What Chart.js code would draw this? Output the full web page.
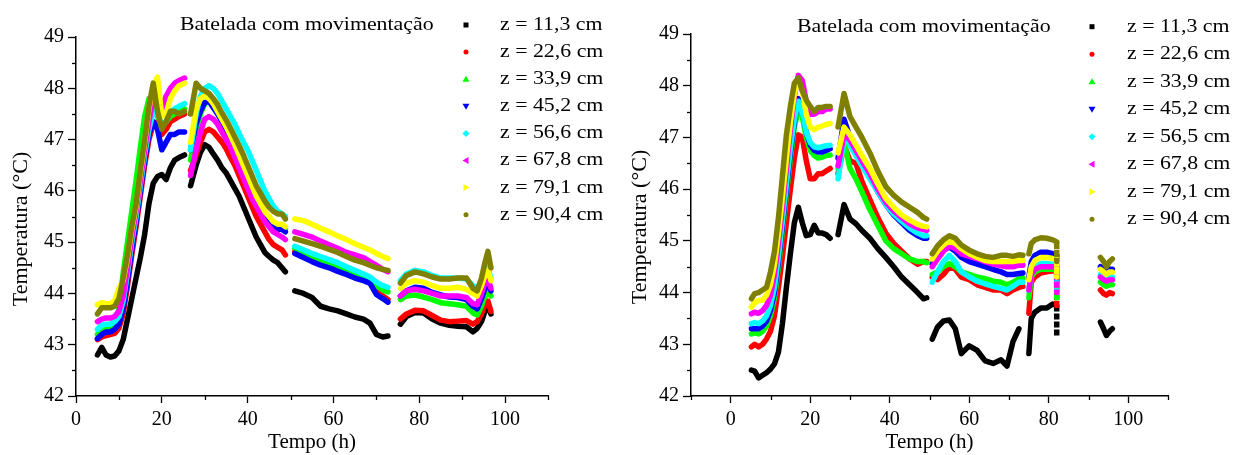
<!DOCTYPE html>
<html>
<head>
<meta charset="utf-8">
<script src="https://cdn.jsdelivr.net/npm/chart.js"></script>
<style>
  html, body { margin: 0; padding: 0; background: #fff; }
  #wrap { position: relative; width: 1246px; height: 455px; }
  #left { position: absolute; left: 0; top: 0; }
  #right { position: absolute; left: 620px; top: 0; }
</style>
</head>
<body>
<div id="wrap">
  <canvas id="left" width="620" height="455"></canvas>
  <canvas id="right" width="626" height="455"></canvas>
</div>
<script>
// ---- data (Tempo in h, Temperatura in °C); null = gap between runs ----
const leftTime = [
  5, 6, 7, 8, 9, 10, 11, 12, 13, 14, 15, 16, 17, 18, 19, 20, 21, 22, 23, 24, 25.3,
  26,
  26.7, 28, 29, 30, 31, 32, 33, 34, 35, 36, 37, 38, 39, 40, 41, 42, 43, 44, 45, 46, 47, 48, 48.8,
  50,
  51, 53, 55, 57, 59, 61, 63, 65, 67, 68.5, 70, 71.5, 72.7,
  74,
  75.6, 77, 79, 81, 83, 85, 87, 89, 91, 92.5, 93.5, 94.5, 95.3, 96, 96.7
];
const leftZ113 = [
  42.8, 42.95, 42.8, 42.76, 42.78, 42.88, 43.1, 43.5, 43.9, 44.3, 44.7, 45.15, 45.75, 46.15, 46.28, 46.32, 46.22, 46.45, 46.6, 46.65, 46.7,
  null,
  46.1, 46.5, 46.75, 46.9, 46.85, 46.72, 46.6, 46.45, 46.35, 46.2, 46.05, 45.9, 45.7, 45.5, 45.3, 45.1, 44.95, 44.8, 44.72, 44.65, 44.6, 44.5, 44.42,
  null,
  44.05, 44.0, 43.92, 43.75, 43.7, 43.66, 43.6, 43.54, 43.5, 43.42, 43.2, 43.15, 43.17,
  null,
  43.4, 43.55, 43.63, 43.62, 43.5, 43.42, 43.38, 43.36, 43.35, 43.25, 43.32, 43.45, 43.65, 43.75, 43.6
];
const leftZ226 = [
  43.1, 43.15, 43.18, 43.2, 43.22, 43.32, 43.6, 44.15, 44.75, 45.3, 45.9, 46.5, 47.0, 47.3, 47.35, 47.1, 47.2, 47.35, 47.4, 47.45, 47.5,
  null,
  46.4, 46.7, 46.95, 47.15, 47.2, 47.15, 47.05, 46.95, 46.82, 46.65, 46.5, 46.3, 46.1, 45.9, 45.7, 45.5, 45.35, 45.2, 45.05, 44.95, 44.9, 44.85, 44.75,
  null,
  44.82, 44.75, 44.68, 44.6, 44.55, 44.48, 44.4, 44.35, 44.28, 44.25, 44.05, 43.95, 43.88,
  null,
  43.5, 43.6, 43.67, 43.66, 43.57, 43.48, 43.45, 43.46, 43.47, 43.4, 43.45, 43.6, 43.78, 43.85, 43.65
];
const leftZ339 = [
  43.2, 43.25, 43.3, 43.3, 43.35, 43.7, 44.4, 45.0, 45.6, 46.2, 46.85, 47.45, 47.8, 47.6, 47.45, 47.3, 47.35, 47.45, 47.5, 47.55, 47.6,
  null,
  46.6, 47.2, 47.5, 47.7, 47.75, 47.65, 47.55, 47.4, 47.22, 47.05, 46.85, 46.65, 46.45, 46.25, 46.05, 45.85, 45.7, 45.55, 45.45, 45.35, 45.3, 45.3, 45.25,
  null,
  44.88, 44.8, 44.72, 44.65, 44.6, 44.52, 44.45, 44.4, 44.35, 44.3, 44.15, 44.07, 44.03,
  null,
  43.88, 43.95, 43.97, 43.93, 43.88, 43.82, 43.8, 43.78, 43.75, 43.62, 43.58, 43.75, 43.95, 44.05, 43.95
];
const leftZ452 = [
  43.12, 43.2, 43.25, 43.25, 43.3, 43.4, 43.7, 44.25, 44.85, 45.4, 46.0, 46.6, 47.1, 47.35, 47.2, 46.8, 46.95, 47.1, 47.1, 47.15, 47.15,
  null,
  46.8, 47.3, 47.55, 47.72, 47.75, 47.62, 47.5, 47.35, 47.18, 47.0, 46.8, 46.6, 46.4, 46.2, 46.0, 45.8, 45.65, 45.5, 45.4, 45.3, 45.25, 45.25, 45.2,
  null,
  44.78, 44.7, 44.62, 44.55, 44.5, 44.43, 44.37, 44.3, 44.25, 44.2, 43.98, 43.9, 43.83,
  null,
  43.95, 44.05, 44.12, 44.1, 44.02, 43.97, 43.93, 43.92, 43.88, 43.75, 43.7, 43.9, 44.1, 44.2, 44.05
];
const leftZ566 = [
  43.3, 43.38, 43.4, 43.4, 43.45, 43.55, 43.85, 44.4, 45.0, 45.5, 46.1, 46.7, 47.2, 47.55, 47.5, 47.3, 47.35, 47.55, 47.6, 47.65, 47.7,
  null,
  46.8, 47.5, 47.85, 48.0, 48.05, 48.0, 47.9, 47.75, 47.6, 47.45, 47.3, 47.12, 46.95, 46.8, 46.6, 46.4, 46.2, 46.0, 45.85, 45.7, 45.6, 45.55, 45.5,
  null,
  44.92, 44.85, 44.78, 44.72, 44.66, 44.6, 44.52, 44.45, 44.38, 44.32, 44.22, 44.15, 44.12,
  null,
  44.25, 44.38, 44.45, 44.42, 44.35, 44.3, 44.3, 44.3, 44.28, 44.15, 44.1, 44.25, 44.45, 44.5, 44.3
];
const leftZ678 = [
  43.45, 43.5, 43.52, 43.52, 43.55, 43.65, 43.95, 44.5, 45.1, 45.6, 46.2, 46.8, 47.35, 47.8, 47.85, 47.6, 47.85, 48.0, 48.1, 48.15, 48.2,
  null,
  46.3, 46.8, 47.15, 47.4, 47.45, 47.4, 47.3, 47.15, 47.0, 46.85, 46.65, 46.45, 46.25, 46.05, 45.85, 45.7, 45.55, 45.4, 45.3, 45.2, 45.15, 45.1, 45.05,
  null,
  45.2, 45.15, 45.1, 45.02, 44.95, 44.88, 44.8, 44.75, 44.7, 44.62, 44.55, 44.47, 44.42,
  null,
  43.95, 44.05, 44.08, 44.05, 44.0, 43.95, 43.95, 43.95, 43.92, 43.8, 43.78, 44.0, 44.2, 44.3, 44.1
];
const leftZ791 = [
  43.78, 43.82, 43.8, 43.8, 43.85, 44.1, 44.25, 44.7, 45.25, 45.7, 46.35, 46.95, 47.6, 48.05, 48.22, 47.45, 47.5, 47.8, 47.95, 48.05, 48.1,
  null,
  46.95, 47.6, 47.8, 47.85, 47.8, 47.7, 47.55, 47.4, 47.25, 47.08, 46.9, 46.7, 46.5, 46.3, 46.1, 45.9, 45.75, 45.6, 45.5, 45.4, 45.35, 45.35, 45.3,
  null,
  45.45, 45.42, 45.35, 45.27, 45.2, 45.12, 45.05, 44.97, 44.9, 44.85, 44.78, 44.72, 44.68,
  null,
  44.1, 44.2, 44.25, 44.22, 44.15, 44.1, 44.1, 44.12, 44.08, 44.0, 43.95, 44.15, 44.35, 44.45, 44.25
];
const leftZ904 = [
  43.6, 43.72, 43.72, 43.72, 43.75, 43.9, 44.3, 44.75, 45.3, 45.75, 46.4, 47.0, 47.65, 48.1, 47.55, 47.2, 47.35, 47.55, 47.55, 47.5, 47.55,
  null,
  47.5, 48.1, 48.0, 47.95, 47.9, 47.8, 47.68, 47.52, 47.38, 47.22, 47.05, 46.88, 46.7, 46.5, 46.3, 46.1, 45.95, 45.8, 45.68, 45.6, 45.55, 45.55, 45.45,
  null,
  45.07, 45.02, 44.97, 44.92, 44.86, 44.8, 44.72, 44.65, 44.6, 44.55, 44.5, 44.47, 44.45,
  null,
  44.2, 44.35, 44.42, 44.38, 44.32, 44.28, 44.28, 44.3, 44.3, 44.1, 44.05, 44.3, 44.6, 44.82, 44.5
];

const rightTime = [
  5.2, 6, 7, 8, 9, 10, 11, 12, 13, 14, 15, 16, 17, 18, 19, 20, 21, 22, 23, 24, 25,
  26,
  27, 28.5, 30, 31.5, 33, 35, 37, 39, 41, 43, 45, 47, 48.5, 49.3,
  50,
  50.7, 52, 53.5, 55, 56.5, 58, 60, 62, 64, 66, 68, 69.5, 71, 72.5, 73.5,
  74,
  75, 75.6, 76.5, 78, 79.5, 81, 82, 82,
  87,
  93, 93.8, 94.5, 95.3, 96
];
const rightZ113 = [
  42.5, 42.48, 42.35, 42.4, 42.45, 42.52, 42.62, 42.85, 43.4, 44.1, 44.75, 45.35, 45.65, 45.35, 45.1, 45.12, 45.3, 45.15, 45.15, 45.12, 45.05,
  null,
  45.12, 45.7, 45.42, 45.33, 45.2, 45.05, 44.85, 44.68, 44.5, 44.3, 44.15, 44.0, 43.88, 43.9,
  null,
  43.1, 43.33, 43.45, 43.47, 43.3, 42.82, 42.97, 42.88, 42.68, 42.63, 42.7, 42.58, 43.05, 43.3, null,
  null,
  42.82, 43.5, 43.62, 43.7, 43.7, 43.78, 43.75, 43.15,
  null,
  43.43, 43.3, 43.17, 43.25, 43.3
];
const rightZ226 = [
  42.95, 43.0, 42.95, 43.0, 43.1, 43.25, 43.55, 44.1, 44.7, 45.35, 46.0, 46.6, 47.05, 47.0, 46.55, 46.2, 46.2, 46.3, 46.3, 46.35, 46.4,
  null,
  46.3, 46.85, 46.55, 46.5, 46.15, 45.8, 45.45, 45.15, 44.95, 44.8, 44.65, 44.55, 44.6, 44.6,
  null,
  44.3, 44.25, 44.35, 44.5, 44.45, 44.3, 44.25, 44.15, 44.1, 44.05, 44.05, 43.98, 44.05, 44.1, 44.12,
  null,
  43.6, 44.2, 44.3, 44.38, 44.4, 44.42, 44.4, 43.75,
  null,
  44.05, 43.98, 43.95, 44.0, 43.98
];
const rightZ339 = [
  43.2, 43.22, 43.2, 43.25, 43.35, 43.55, 43.9, 44.5, 45.2, 45.9, 46.6, 47.2, 47.55, 47.4, 47.0, 46.75, 46.65, 46.6, 46.62, 46.65, 46.66,
  null,
  46.4, 46.9, 46.4, 46.2, 45.95, 45.6, 45.3, 45.0, 44.85, 44.75, 44.65, 44.6, 44.6, 44.58,
  null,
  44.35, 44.4, 44.5, 44.56, 44.5, 44.4, 44.35, 44.3, 44.27, 44.22, 44.2, 44.15, 44.2, 44.27, 44.28,
  null,
  43.9, 44.3, 44.4, 44.45, 44.45, 44.45, 44.42, 43.9,
  null,
  44.2, 44.15, 44.12, 44.15, 44.15
];
const rightZ452 = [
  43.3, 43.3, 43.3, 43.35, 43.45, 43.65, 44.0, 44.6, 45.3, 46.0, 46.7, 47.3, 47.75, 47.55, 47.1, 46.85, 46.75, 46.72, 46.72, 46.75, 46.78,
  null,
  46.6, 47.35, 47.0, 46.7, 46.5, 46.25, 45.95, 45.7, 45.5, 45.35, 45.2, 45.1, 45.05, 45.05,
  null,
  44.55, 44.7, 44.82, 44.88, 44.8, 44.68, 44.6, 44.55, 44.5, 44.45, 44.4, 44.35, 44.35, 44.37, 44.38,
  null,
  44.3, 44.6, 44.72, 44.78, 44.78, 44.75, 44.72, 44.2,
  null,
  44.5, 44.45, 44.42, 44.45, 44.45
];
const rightZ565 = [
  43.4, 43.42, 43.4, 43.45, 43.55, 43.75, 44.1, 44.7, 45.4, 46.1, 46.8, 47.35, 47.7, 47.5, 47.1, 46.9, 46.82, 46.8, 46.82, 46.84, 46.85,
  null,
  46.2, 47.0, 46.85, 46.65, 46.45, 46.2, 45.95, 45.7, 45.52, 45.38, 45.25, 45.15, 45.1, 45.1,
  null,
  44.2, 44.4, 44.6, 44.72, 44.6, 44.4, 44.3, 44.22, 44.17, 44.12, 44.08, 44.05, 44.12, 44.2, 44.2,
  null,
  44.05, 44.4, 44.5, 44.56, 44.56, 44.55, 44.55, 43.95,
  null,
  44.35, 44.3, 44.28, 44.3, 44.3
];
const rightZ678 = [
  43.59, 43.62, 43.6, 43.65, 43.75, 43.95, 44.35, 44.95, 45.65, 46.4, 47.15, 47.8, 48.2, 48.1, 47.7, 47.45, 47.45, 47.5, 47.5, 47.55, 47.55,
  null,
  46.45, 47.05, 46.95, 46.75, 46.55, 46.3, 46.0, 45.75, 45.58, 45.45, 45.33, 45.25, 45.22, 45.2,
  null,
  44.5, 44.65, 44.8, 44.9, 44.85, 44.75, 44.7, 44.65, 44.6, 44.55, 44.52, 44.5, 44.5, 44.53, 44.53,
  null,
  44.05, 44.35, 44.45, 44.5, 44.5, 44.5, 44.48, 44.0,
  null,
  44.3, 44.25, 44.22, 44.25, 44.25
];
const rightZ791 = [
  43.72, 43.8, 43.85, 43.85, 43.95, 44.15, 44.55, 45.15, 45.85, 46.6, 47.3, 47.85, 48.1, 47.9, 47.45, 47.2, 47.15, 47.2, 47.22, 47.25, 47.27,
  null,
  46.7, 47.2, 47.05, 46.85, 46.65, 46.4, 46.1, 45.82, 45.65, 45.5, 45.4, 45.32, 45.28, 45.27,
  null,
  44.65, 44.8, 44.92, 45.0, 44.95, 44.85, 44.75, 44.68, 44.62, 44.6, 44.6, 44.6, 44.6, 44.62, 44.62,
  null,
  44.25, 44.5, 44.62, 44.68, 44.68, 44.66, 44.65, 44.3,
  null,
  44.45, 44.4, 44.35, 44.4, 44.4
];
const rightZ904 = [
  43.88, 43.98, 44.0, 44.05, 44.1, 44.4, 44.8, 45.45, 46.25, 47.05, 47.6, 48.05, 48.15, 47.9, 47.72, 47.6, 47.5, 47.58, 47.58, 47.6, 47.6,
  null,
  47.2, 47.85, 47.4, 47.2, 47.0, 46.7, 46.35, 46.05, 45.88, 45.75, 45.65, 45.55, 45.45, 45.42,
  null,
  44.75, 44.9, 45.02, 45.1, 45.05, 44.92, 44.82, 44.75, 44.7, 44.68, 44.72, 44.72, 44.7, 44.73, 44.72,
  null,
  44.75, 44.95, 45.02, 45.06, 45.05, 45.02, 44.98, 44.6,
  null,
  44.68, 44.6, 44.5, 44.6, 44.65
];

const leftLabels = ['z = 11,3 cm', 'z = 22,6 cm', 'z = 33,9 cm', 'z = 45,2 cm', 'z = 56,6 cm', 'z = 67,8 cm', 'z = 79,1 cm', 'z = 90,4 cm'];
const rightLabels = ['z = 11,3 cm', 'z = 22,6 cm', 'z = 33,9 cm', 'z = 45,2 cm', 'z = 56,5 cm', 'z = 67,8 cm', 'z = 79,1 cm', 'z = 90,4 cm'];
const colors = ['#000000', '#ff0000', '#00ff00', '#0000ff', '#00ffff', '#ff00ff', '#ffff00', '#808000'];
const markers = ['square', 'circle', 'up', 'down', 'diamond', 'left', 'right', 'circle'];

const FONT = "'Liberation Serif', 'Times New Roman', serif";

function drawMarker(ctx, kind, x, y, color) {
  const r = 2.5;
  ctx.fillStyle = color;
  ctx.beginPath();
  if (kind === 'square') ctx.rect(x - r, y - r, 2 * r, 2 * r);
  else if (kind === 'circle') ctx.arc(x, y, r, 0, Math.PI * 2);
  else if (kind === 'up') { ctx.moveTo(x, y - r - 1); ctx.lineTo(x + r + 1, y + r); ctx.lineTo(x - r - 1, y + r); }
  else if (kind === 'down') { ctx.moveTo(x, y + r + 1); ctx.lineTo(x + r + 1, y - r); ctx.lineTo(x - r - 1, y - r); }
  else if (kind === 'diamond') { ctx.moveTo(x, y - r - 1); ctx.lineTo(x + r + 1, y); ctx.lineTo(x, y + r + 1); ctx.lineTo(x - r - 1, y); }
  else if (kind === 'left') { ctx.moveTo(x - r - 1, y); ctx.lineTo(x + r, y - r - 1); ctx.lineTo(x + r, y + r + 1); }
  else if (kind === 'right') { ctx.moveTo(x + r + 1, y); ctx.lineTo(x - r, y - r - 1); ctx.lineTo(x - r, y + r + 1); }
  ctx.closePath();
  ctx.fill();
}

function stretchText(ctx, text, x, y, s) {
  ctx.save();
  ctx.translate(x, y);
  ctx.scale(s, 1);
  ctx.fillText(text, 0, 0);
  ctx.restore();
}

// legend box inside the plot, y title and the short minor ticks
const zLegend = {
  id: 'zLegend',
  afterDraw(chart, args, o) {
    const ctx = chart.ctx;
    ctx.save();
    // minor ticks
    ctx.strokeStyle = '#000';
    ctx.lineWidth = 1.3;
    const xs = chart.scales.x, ys = chart.scales.y;
    xs.ticks.forEach(t => {
      if (t.value % 20 !== 0) {
        const px = Math.round(xs.getPixelForValue(t.value)) + 0.5;
        ctx.beginPath(); ctx.moveTo(px, xs.top); ctx.lineTo(px, xs.top + 4); ctx.stroke();
      }
    });
    ys.ticks.forEach(t => {
      if (!Number.isInteger(t.value)) {
        const py = Math.round(ys.getPixelForValue(t.value)) + 0.5;
        ctx.beginPath(); ctx.moveTo(ys.right, py); ctx.lineTo(ys.right - 4, py); ctx.stroke();
      }
    });
    // y axis title
    ctx.fillStyle = '#000';
    ctx.font = '22px ' + FONT;
    ctx.textAlign = 'center';
    ctx.textBaseline = 'middle';
    ctx.save();
    ctx.translate(o.yTitleX, o.yTitleY);
    ctx.rotate(-Math.PI / 2);
    ctx.fillText('Temperatura (°C)', 0, 0);
    ctx.restore();
    // legend
    ctx.font = '19px ' + FONT;
    ctx.textAlign = 'left';
    stretchText(ctx, o.title, o.titleX, o.y0, o.stretch);
    chart.data.datasets.forEach((ds, i) => {
      const y = o.y0 + i * o.dy;
      drawMarker(ctx, markers[i], o.markerX, y, ds.borderColor);
      ctx.fillStyle = '#000';
      stretchText(ctx, ds.label, o.textX, y, o.stretch);
    });
    ctx.restore();
  }
};

function makeChart(id, times, series, labels, xMin, yAxisWidth, pad, legend) {
  const datasets = series.map((vals, i) => ({
    label: labels[i],
    data: times.map((t, k) => ({ x: t, y: vals[k] })),
    borderColor: colors[i],
    backgroundColor: colors[i],
    borderWidth: 5.5,
    borderCapStyle: 'round',
    borderJoinStyle: 'round',
    pointRadius: 0,
    tension: 0,
    spanGaps: false,
    order: 7 - i,
    segment: {
      borderDash: c => (c.p0.parsed.x === c.p1.parsed.x ? [4, 4] : undefined),
      borderCapStyle: c => (c.p0.parsed.x === c.p1.parsed.x ? 'butt' : undefined)
    }
  }));

  return new Chart(document.getElementById(id), {
    type: 'line',
    data: { datasets },
    options: {
      responsive: false,
      animation: false,
      events: [],
      layout: { padding: pad },
      plugins: {
        legend: { display: false },
        tooltip: { enabled: false },
        zLegend: legend
      },
      scales: {
        x: {
          type: 'linear',
          min: xMin,
          max: 110,
          afterFit: s => { s.height = 59; },
          border: { display: true, color: '#000', width: 1.5 },
          grid: {
            drawOnChartArea: false,
            tickLength: 7,
            tickWidth: 1.3,
            tickColor: c => (c.tick && c.tick.value % 20 === 0 ? '#000' : 'rgba(0,0,0,0)')
          },
          ticks: {
            stepSize: 10,
            autoSkip: false,
            maxRotation: 0,
            padding: 5,
            color: '#000',
            font: { family: FONT, size: 20 },
            callback: v => (v % 20 === 0 && v <= 100 ? String(v) : '')
          },
          title: {
            display: true,
            text: 'Tempo (h)',
            color: '#000',
            font: { family: FONT, size: 21 },
            padding: { top: 0, bottom: 0 }
          }
        },
        y: {
          min: 42,
          max: 49,
          afterFit: s => { s.width = yAxisWidth; },
          border: { display: true, color: '#000', width: 1.5 },
          grid: {
            drawOnChartArea: false,
            tickLength: 8,
            tickWidth: 1.3,
            tickColor: c => (c.tick && Number.isInteger(c.tick.value) ? '#000' : 'rgba(0,0,0,0)')
          },
          ticks: {
            stepSize: 0.5,
            autoSkip: false,
            padding: 4,
            color: '#000',
            font: { family: FONT, size: 20 },
            callback: v => (Number.isInteger(v) ? String(v) : '')
          },
          title: { display: false }
        }
      }
    },
    plugins: [zLegend]
  });
}

makeChart('left', leftTime,
  [leftZ113, leftZ226, leftZ339, leftZ452, leftZ566, leftZ678, leftZ791, leftZ904],
  leftLabels, 0, 76,
  { top: 37, right: 72, bottom: 0, left: 0 },
  { title: 'Batelada com movimentação', titleX: 180, markerX: 466, textX: 500, y0: 25, dy: 27.1, stretch: 1.15,
    yTitleX: 21, yTitleY: 229 });

makeChart('right', rightTime,
  [rightZ113, rightZ226, rightZ339, rightZ452, rightZ565, rightZ678, rightZ791, rightZ904],
  rightLabels, -10, 71,
  { top: 34, right: 78, bottom: 0, left: 0 },
  { title: 'Batelada com movimentação', titleX: 177, markerX: 472, textX: 507, y0: 26.7, dy: 27.5, stretch: 1.15,
    yTitleX: 20, yTitleY: 227 });
</script>
</body>
</html>
